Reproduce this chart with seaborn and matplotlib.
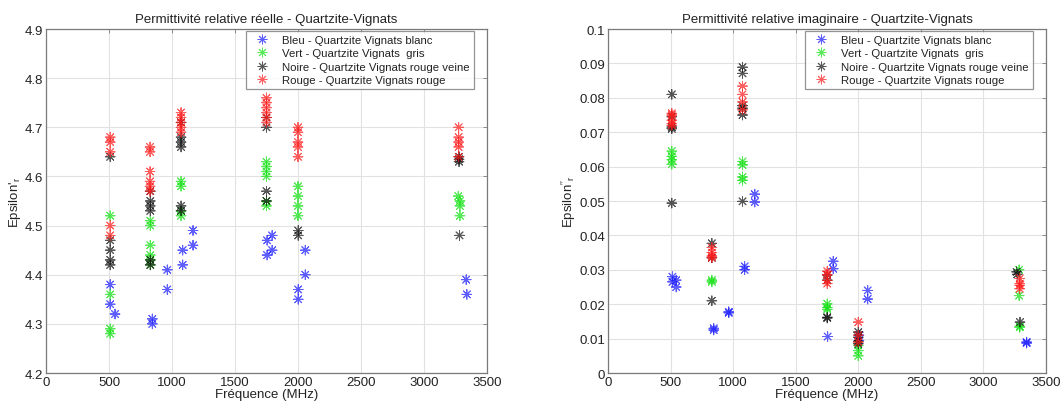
import numpy as np
import pandas as pd
import matplotlib
matplotlib.use("Agg")
import matplotlib.pyplot as plt
import seaborn as sns

# ---- Permittivité réelle (epsilon'_r) ----
bleu_freq_re = [510, 510, 548, 844, 844, 963, 963, 1085, 1085, 1167, 1167,
                1755, 1755, 1795, 1795, 2002, 2002, 2058, 2058, 3335, 3340]
bleu_eps_re = [4.38, 4.34, 4.32, 4.31, 4.30, 4.41, 4.37, 4.45, 4.42, 4.49, 4.46,
               4.47, 4.44, 4.48, 4.45, 4.37, 4.35, 4.45, 4.40, 4.39, 4.36]

vert_freq_re = [510, 510, 510, 510, 828, 828, 828, 828, 828, 828,
                1072, 1072, 1072, 1072, 1750, 1750, 1750, 1750, 1750, 1750,
                2000, 2000, 2000, 2000, 3272, 3285, 3285, 3285]
vert_eps_re = [4.52, 4.36, 4.29, 4.28, 4.51, 4.50, 4.46, 4.44, 4.43, 4.42,
               4.59, 4.58, 4.53, 4.52, 4.63, 4.62, 4.61, 4.60, 4.55, 4.54,
               4.58, 4.56, 4.54, 4.52, 4.56, 4.55, 4.54, 4.52]

noire_freq_re = [510, 510, 510, 510, 510, 828, 828, 828, 828, 828, 828,
                 1072, 1072, 1072, 1072, 1072, 1072, 1750, 1750, 1750, 1750,
                 2002, 2002, 3278, 3278, 3278, 3282]
noire_eps_re = [4.64, 4.47, 4.45, 4.43, 4.42, 4.57, 4.55, 4.54, 4.53, 4.43, 4.42,
                4.71, 4.68, 4.67, 4.66, 4.54, 4.53, 4.72, 4.70, 4.57, 4.55,
                4.49, 4.48, 4.64, 4.635, 4.63, 4.48]

rouge_freq_re = [510, 510, 510, 510, 510, 826, 826, 826, 826, 826, 826,
                 1072, 1072, 1072, 1072, 1072, 1750, 1750, 1750, 1750, 1750, 1750,
                 2000, 2000, 2000, 2000, 2000, 3275, 3275, 3275, 3275, 3275]
rouge_eps_re = [4.68, 4.67, 4.65, 4.50, 4.48, 4.66, 4.65, 4.61, 4.59, 4.58, 4.57,
                4.73, 4.72, 4.71, 4.70, 4.69, 4.76, 4.75, 4.74, 4.73, 4.72, 4.71,
                4.70, 4.69, 4.67, 4.66, 4.64, 4.70, 4.68, 4.67, 4.66, 4.64]

# ---- Permittivité imaginaire (epsilon''_r) ----
bleu_freq_im = [515, 515, 545, 545, 845, 845, 965, 965, 1092, 1092, 1173, 1173,
                1755, 1800, 1800, 2005, 2005, 2075, 2075, 3345, 3345]
bleu_eps_im = [0.028, 0.0265, 0.027, 0.025, 0.013, 0.0125, 0.0178, 0.0175,
               0.031, 0.030, 0.052, 0.0497, 0.0106, 0.0325, 0.0303,
               0.011, 0.0095, 0.024, 0.0215, 0.009, 0.0087]

vert_freq_im = [510, 510, 510, 510, 830, 830, 1075, 1075, 1075, 1075,
                1752, 1752, 1752, 2000, 2000, 2000, 3285, 3285, 3290, 3290]
vert_eps_im = [0.0645, 0.063, 0.062, 0.0607, 0.027, 0.0265, 0.0615, 0.0605, 0.057, 0.056,
               0.0201, 0.019, 0.0185, 0.008, 0.0065, 0.005, 0.030, 0.0225, 0.0136, 0.0133]

noire_freq_im = [510, 510, 510, 510, 510, 830, 830, 830,
                 1075, 1075, 1075, 1075, 1075, 1075, 1752, 1752, 1752, 1752,
                 2000, 2000, 2000, 2000, 3265, 3270, 3292]
noire_eps_im = [0.081, 0.0745, 0.0715, 0.071, 0.0494, 0.0377, 0.0335, 0.021,
                0.0889, 0.0871, 0.0777, 0.077, 0.075, 0.0499, 0.0285, 0.027, 0.0162, 0.016,
                0.0119, 0.0104, 0.0092, 0.0085, 0.0294, 0.0287, 0.0148]

rouge_freq_im = [510, 510, 510, 510, 510, 830, 830, 830, 830,
                 1075, 1075, 1075, 1075, 1752, 1752, 1752, 1752,
                 2000, 2000, 2000, 3290, 3290, 3290, 3290]
rouge_eps_im = [0.0755, 0.075, 0.0735, 0.0725, 0.072, 0.0365, 0.035, 0.034, 0.0335,
                0.0834, 0.081, 0.0788, 0.0765, 0.0296, 0.0285, 0.0269, 0.026,
                0.0148, 0.011, 0.009, 0.0275, 0.026, 0.0255, 0.0245]

series_labels = ["Bleu - Quartzite Vignats blanc",
                 "Vert - Quartzite Vignats  gris",
                 "Noire - Quartzite Vignats rouge veine",
                 "Rouge - Quartzite Vignats rouge"]
series_colors = ["#1a1aff", "#10e010", "#111111", "#ff1a1a"]


def make_frame(freqs, values):
    rows = []
    for label, f, v in zip(series_labels, freqs, values):
        rows.append(pd.DataFrame({"freq": f, "eps": v, "serie": label}))
    return pd.concat(rows, ignore_index=True)


df_re = make_frame([bleu_freq_re, vert_freq_re, noire_freq_re, rouge_freq_re],
                   [bleu_eps_re, vert_eps_re, noire_eps_re, rouge_eps_re])
df_im = make_frame([bleu_freq_im, vert_freq_im, noire_freq_im, rouge_freq_im],
                   [bleu_eps_im, vert_eps_im, noire_eps_im, rouge_eps_im])

sns.set_theme(style="white")
plt.rcParams["font.family"] = ["Liberation Sans", "DejaVu Sans"]
plt.rcParams["mathtext.fontset"] = "custom"
plt.rcParams["mathtext.rm"] = "Liberation Sans"
plt.rcParams["mathtext.it"] = "Liberation Sans"

fig = plt.figure(figsize=(10.64, 4.10), dpi=100)
ax1 = fig.add_axes([0.0432, 0.0878, 0.4145, 0.839])
ax2 = fig.add_axes([0.5714, 0.0878, 0.4117, 0.839])

asterisk = (8, 2, 0)
palette = dict(zip(series_labels, series_colors))


def draw(ax, df, ylim, yticks, yticklabels, title, ylabel):
    sns.scatterplot(data=df, x="freq", y="eps", hue="serie", hue_order=series_labels,
                    palette=palette, marker=asterisk, s=48, linewidth=0.7,
                    alpha=0.7, ax=ax, legend=True, zorder=3)
    ax.set_xlim(0, 3500)
    ax.set_ylim(*ylim)
    ax.set_xticks(np.arange(0, 3501, 500))
    ax.set_yticks(yticks)
    ax.set_yticklabels(yticklabels)
    ax.grid(True, color="#e2e2e2", linewidth=0.8, zorder=0)
    ax.set_axisbelow(True)
    for sp in ax.spines.values():
        sp.set_color("#7a7a7a")
        sp.set_linewidth(0.9)
    ax.tick_params(direction="in", top=True, right=True, length=3, width=0.6,
                   color="#7a7a7a", labelsize=9.5, pad=2, labelcolor="#222222")
    ax.set_title(title, fontsize=9.5, pad=5, color="#222222")
    ax.set_xlabel("Fréquence (MHz)", fontsize=9.5, labelpad=0, color="#222222")
    ax.set_ylabel(ylabel, fontsize=9.5, labelpad=1, color="#222222")
    leg = ax.legend(loc="upper right", bbox_to_anchor=(0.97, 0.995), fontsize=8.2,
                    frameon=True, fancybox=False, borderpad=0.35, labelspacing=0.3,
                    handletextpad=0.8, handlelength=2.0, borderaxespad=0.0)
    leg.get_frame().set_edgecolor("#7a7a7a")
    leg.get_frame().set_linewidth(0.9)
    for t in leg.get_texts():
        t.set_color("#222222")


draw(ax1, df_re, (4.2, 4.9), np.arange(4.2, 4.91, 0.1),
     ["4.2", "4.3", "4.4", "4.5", "4.6", "4.7", "4.8", "4.9"],
     "Permittivité relative réelle - Quartzite-Vignats", "Epsilon$'_r$")
draw(ax2, df_im, (0, 0.1), np.arange(0, 0.101, 0.01),
     ["0", "0.01", "0.02", "0.03", "0.04", "0.05", "0.06", "0.07", "0.08", "0.09", "0.1"],
     "Permittivité relative imaginaire - Quartzite-Vignats", "Epsilon$''_r$")

fig.savefig("out.png", dpi=100)
